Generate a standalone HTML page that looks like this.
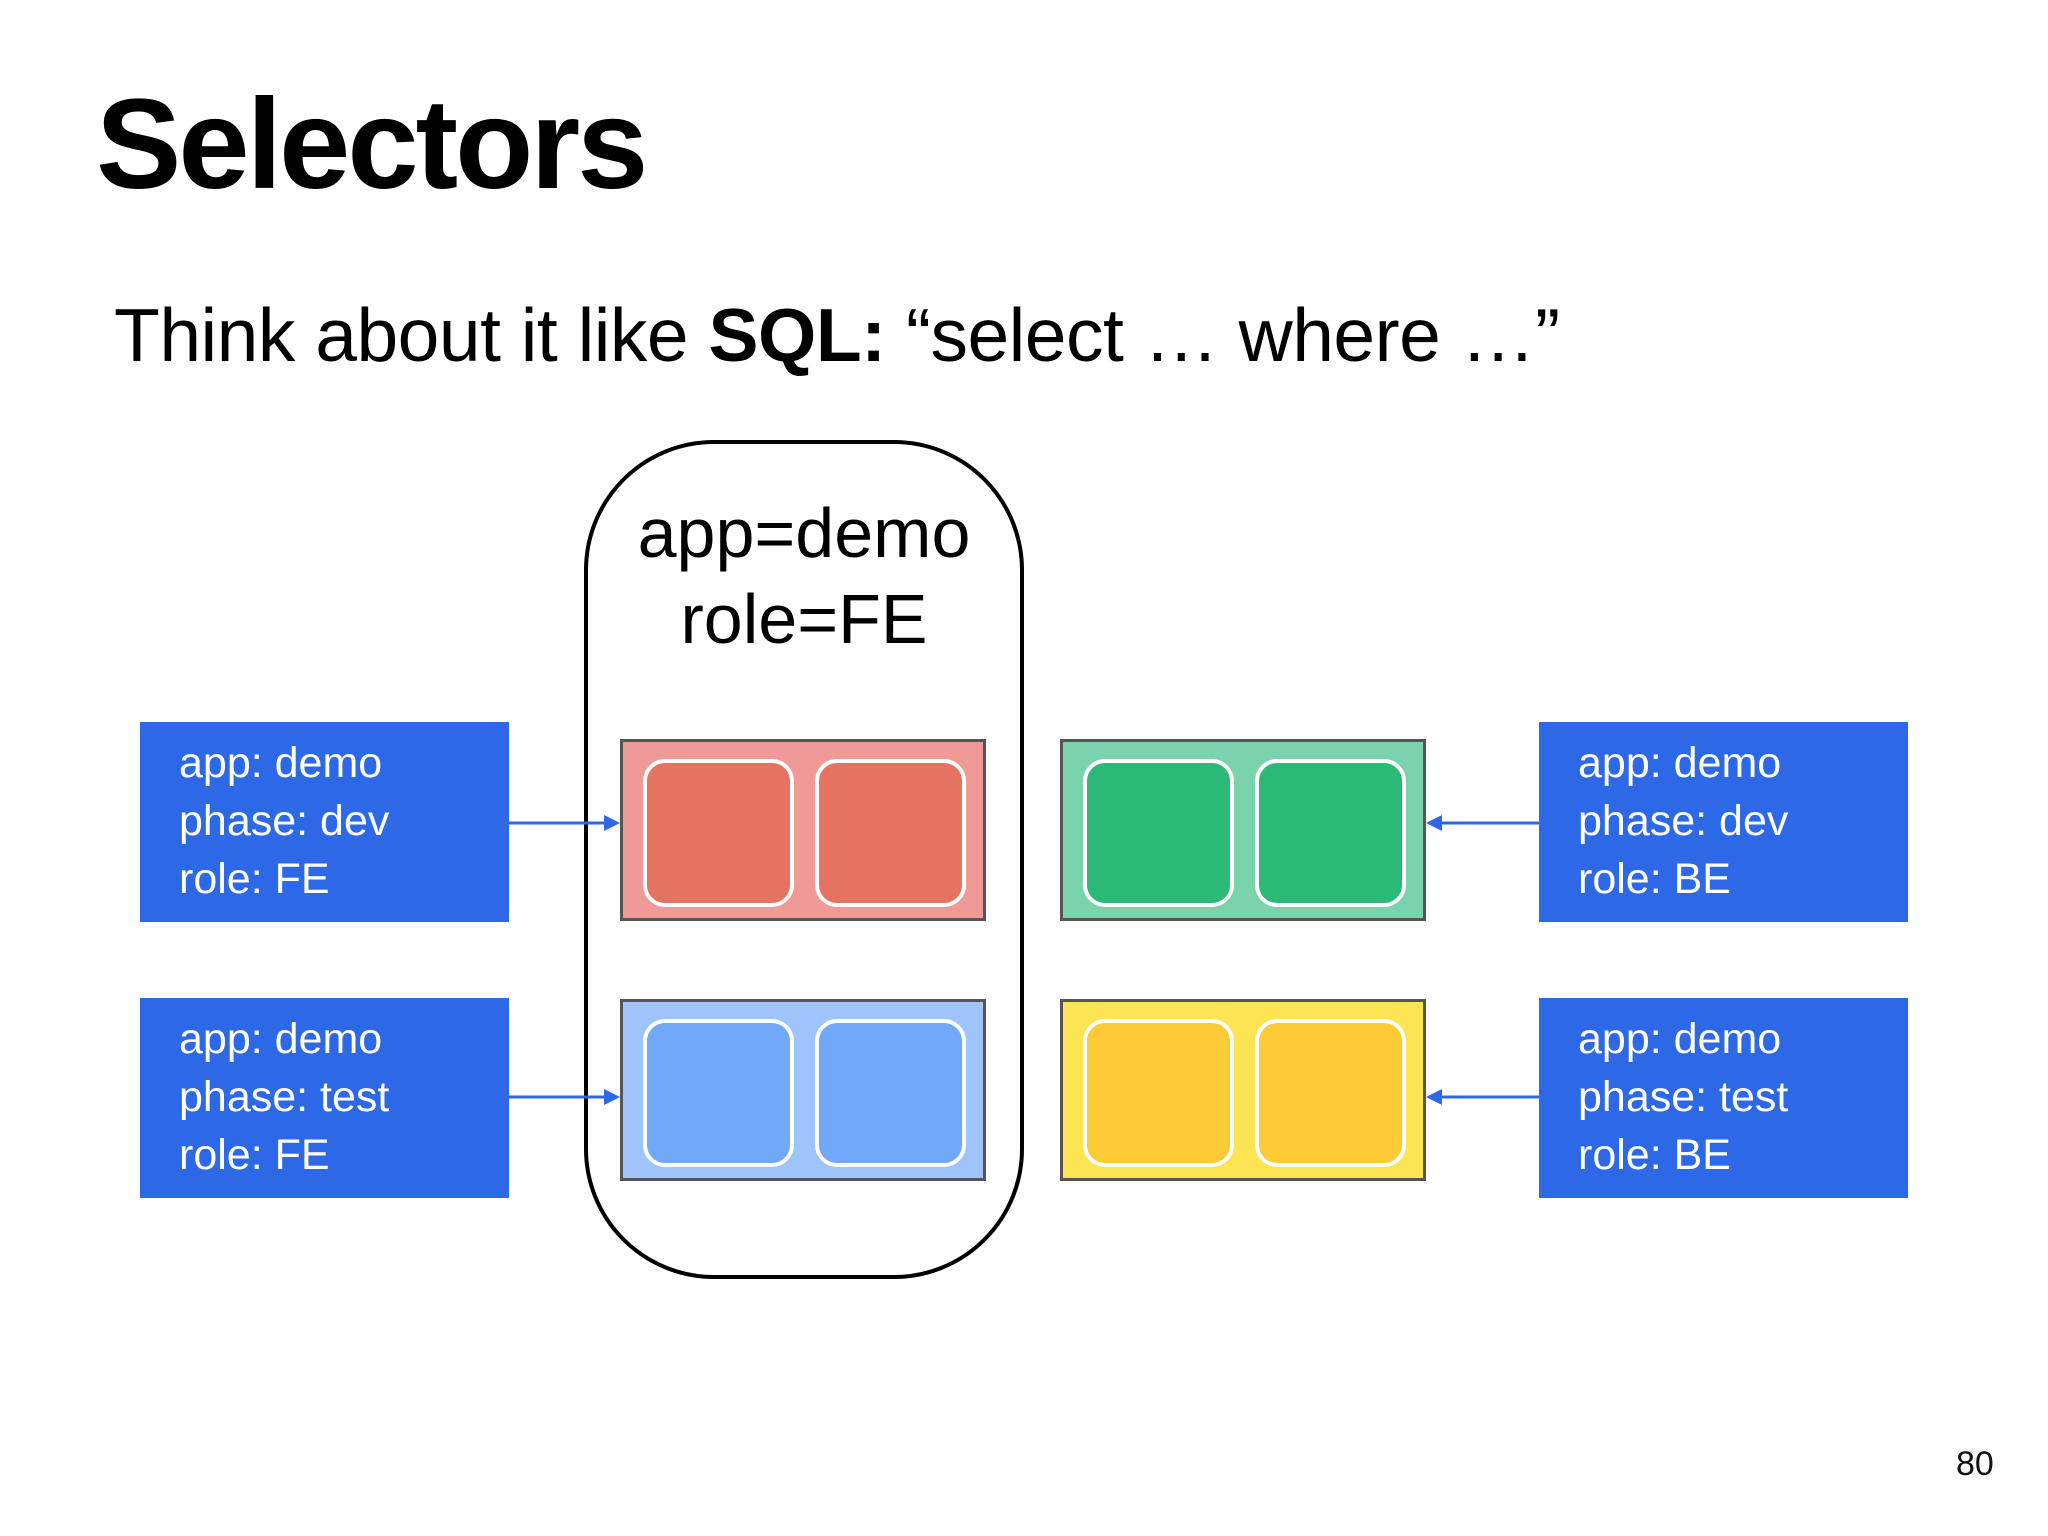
<!DOCTYPE html>
<html><head><meta charset="utf-8"><style>
html,body{margin:0;padding:0;background:#fff}
body{width:2048px;height:1536px;position:relative;overflow:hidden;font-family:"Liberation Sans",sans-serif}
.abs{position:absolute}
.lbl{position:absolute;background:#2d69e6;color:#fff;font-size:43px;line-height:58px;box-sizing:border-box;padding:12px 0 0 39px;width:369px;height:200px}
.grp{position:absolute;width:366px;height:182px;border:3px solid #555;box-sizing:border-box}
.pod{position:absolute;top:17px;width:151px;height:148px;border:4px solid #fff;border-radius:22px;box-sizing:border-box}
</style></head><body>
<div class="abs" style="left:96px;top:70px;font-size:128px;font-weight:bold;letter-spacing:-3px;line-height:150px">Selectors</div>
<div class="abs" style="left:114px;top:290px;font-size:75px;line-height:90px;letter-spacing:-0.5px">Think about it like <b>SQL:</b> “select … where …”</div>
<div class="abs" style="left:584px;top:440px;width:440px;height:839px;border:4px solid #000;border-radius:130px;box-sizing:border-box"></div>
<div class="abs" style="left:584px;top:490px;width:440px;text-align:center;font-size:70px;line-height:86px">app=demo<br>role=FE</div>

<div class="grp" style="left:620px;top:739px;background:#ef9a96"><div class="pod" style="left:20px;background:#e57361"></div><div class="pod" style="left:192px;background:#e57361"></div></div>
<div class="grp" style="left:620px;top:999px;background:#9fc3fb"><div class="pod" style="left:20px;background:#72a8fa"></div><div class="pod" style="left:192px;background:#72a8fa"></div></div>
<div class="grp" style="left:1060px;top:739px;background:#7ad3ab"><div class="pod" style="left:20px;background:#2ab977"></div><div class="pod" style="left:192px;background:#2ab977"></div></div>
<div class="grp" style="left:1060px;top:999px;background:#fde452"><div class="pod" style="left:20px;background:#fecb37"></div><div class="pod" style="left:192px;background:#fecb37"></div></div>

<div class="lbl" style="left:140px;top:722px">app: demo<br>phase: dev<br>role: FE</div>
<div class="lbl" style="left:140px;top:998px">app: demo<br>phase: test<br>role: FE</div>
<div class="lbl" style="left:1539px;top:722px">app: demo<br>phase: dev<br>role: BE</div>
<div class="lbl" style="left:1539px;top:998px">app: demo<br>phase: test<br>role: BE</div>

<svg class="abs" style="left:0;top:0" width="2048" height="1536">
<g stroke="#2d69e6" stroke-width="3" fill="#2d69e6">
<line x1="508" y1="823" x2="606" y2="823"/><polygon points="620,823 604,815 604,831" stroke="none"/>
<line x1="508" y1="1097" x2="606" y2="1097"/><polygon points="620,1097 604,1089 604,1105" stroke="none"/>
<line x1="1539" y1="823" x2="1440" y2="823"/><polygon points="1426,823 1442,815 1442,831" stroke="none"/>
<line x1="1539" y1="1097" x2="1440" y2="1097"/><polygon points="1426,1097 1442,1089 1442,1105" stroke="none"/>
</g></svg>
<div class="abs" style="left:1956px;top:1444px;font-size:34px;line-height:40px;color:#111">80</div>
</body></html>
